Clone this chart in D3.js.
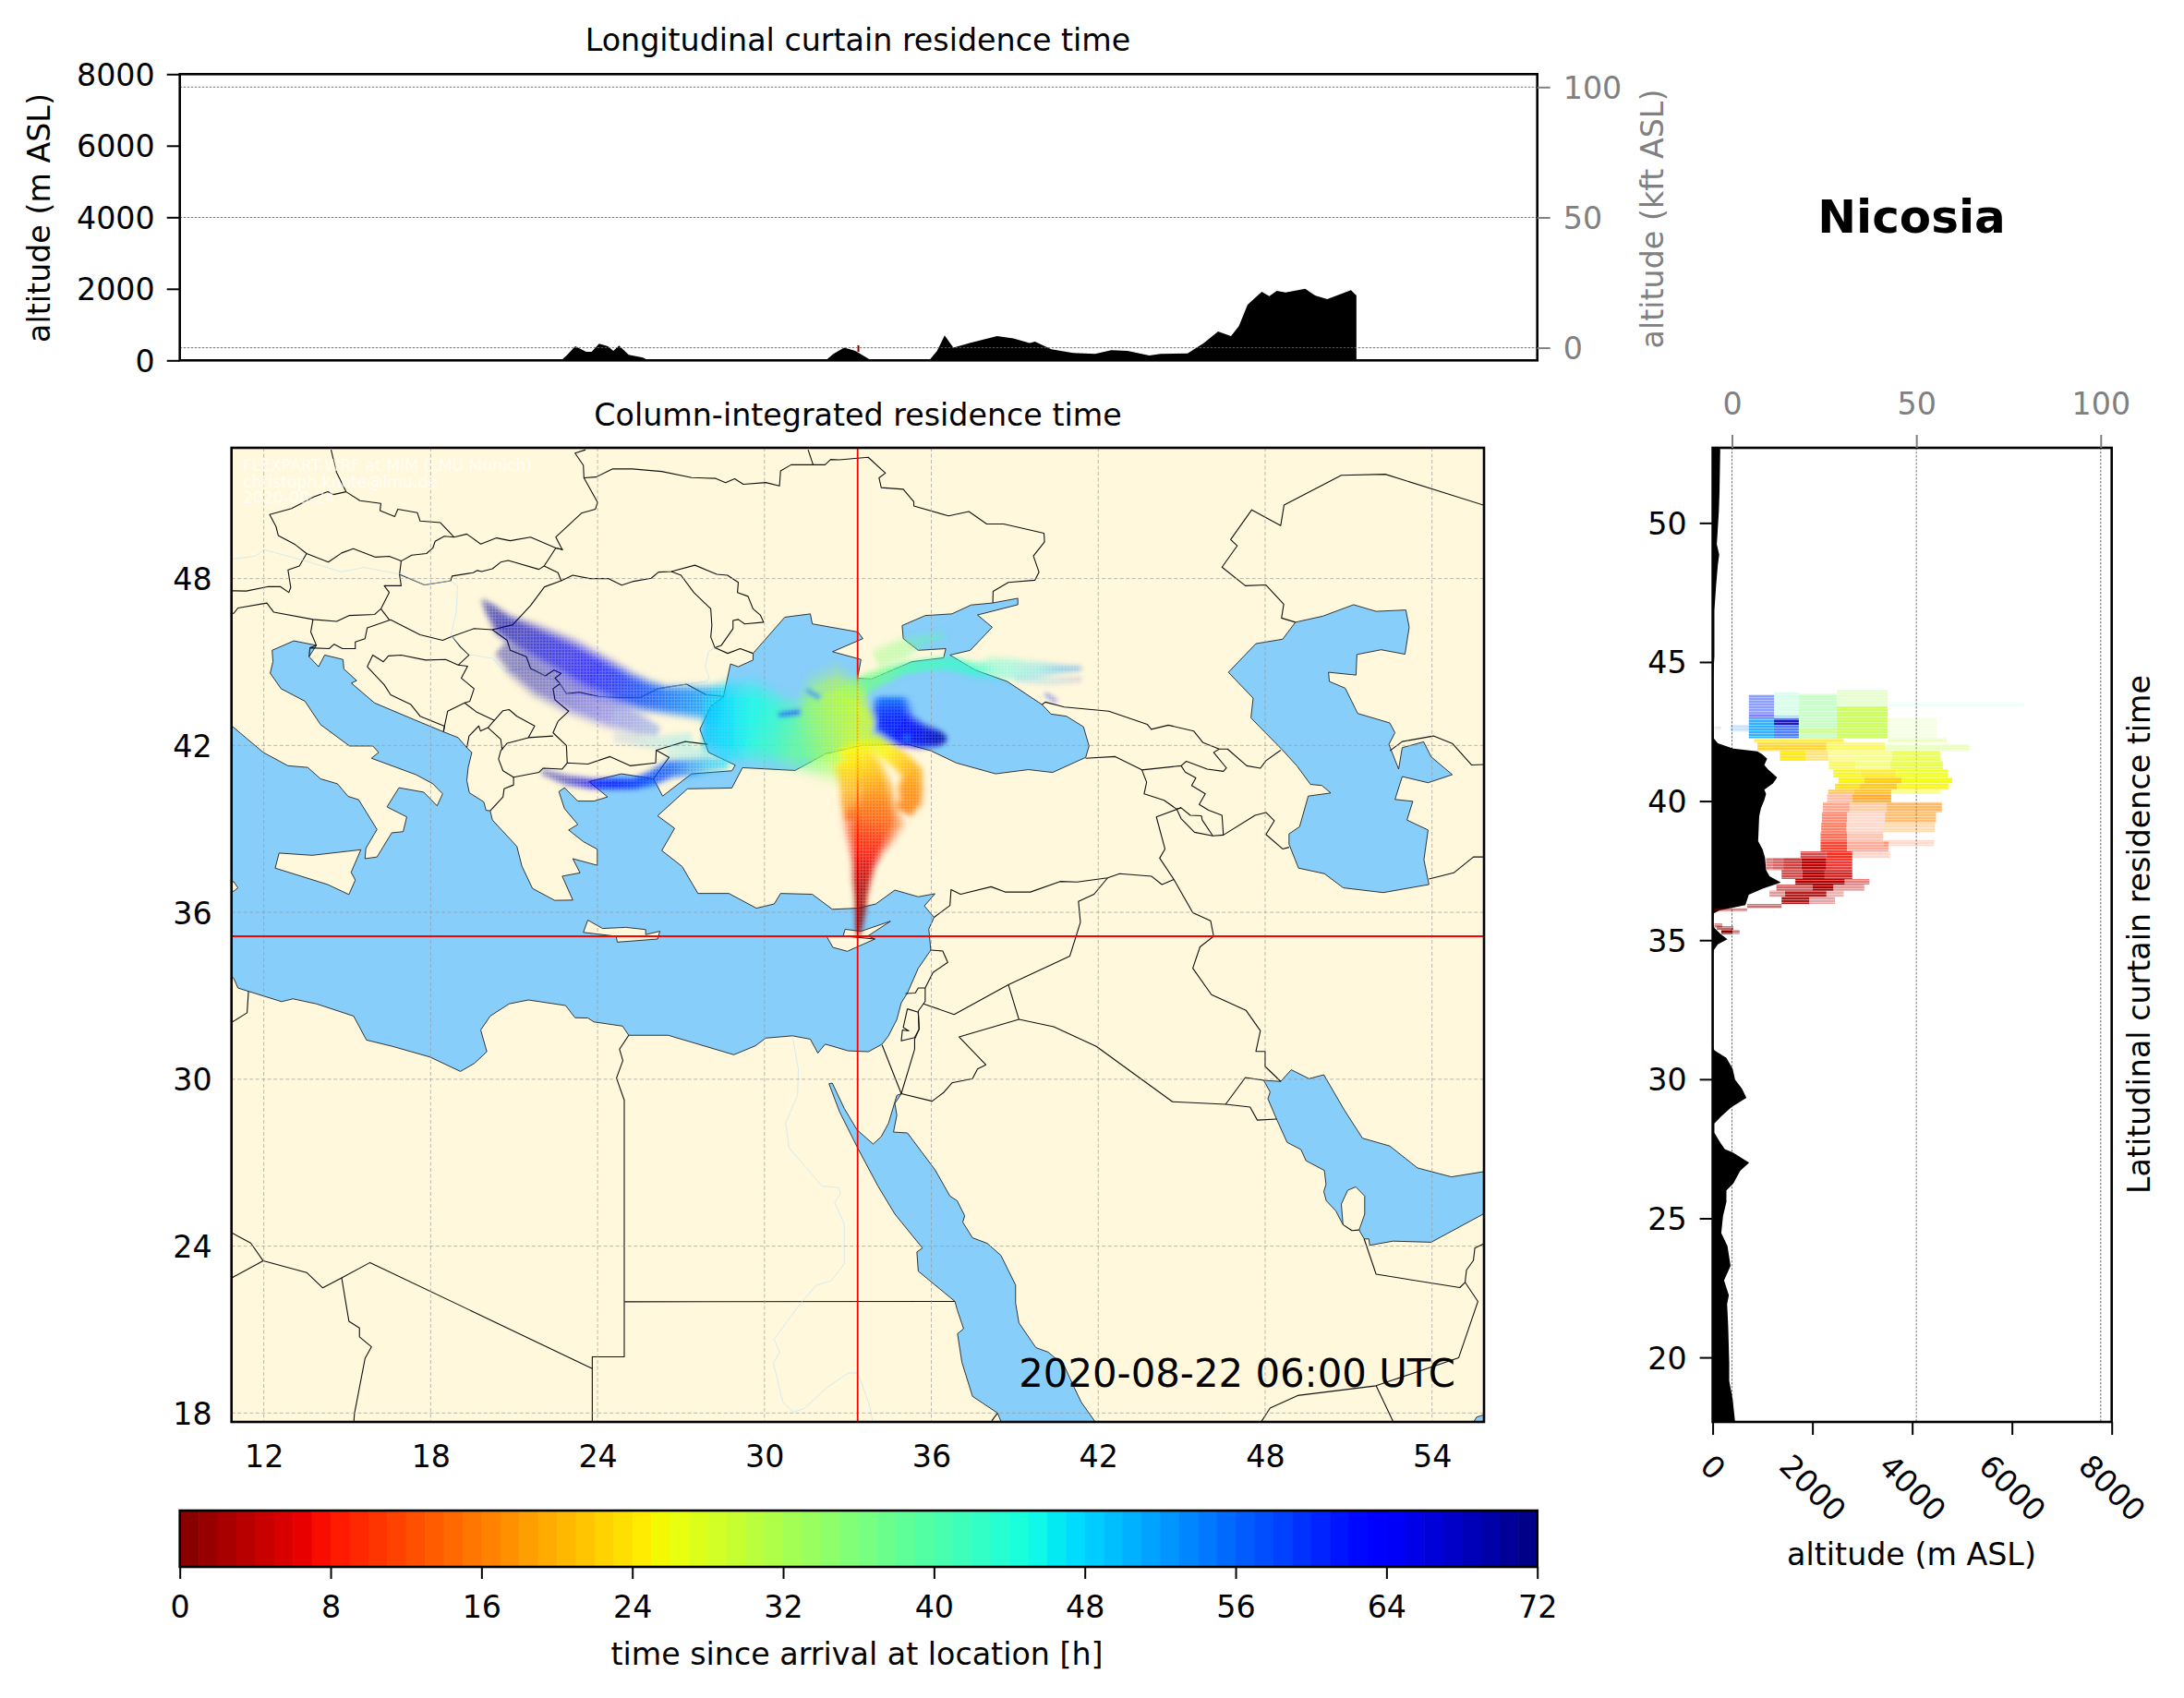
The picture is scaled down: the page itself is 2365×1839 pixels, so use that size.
<!DOCTYPE html>
<html>
<head>
<meta charset="utf-8">
<script src="https://cdn.jsdelivr.net/npm/d3@7"></script>
<style>
  body { margin: 0; background: #fff; }
  text { font-family: "DejaVu Sans", sans-serif; }
</style>
</head>
<body>
<script>
/*
 * Data: everything in degrees, metres, kft or hours
 */
const altTicks = [0, 2000, 4000, 6000, 8000];
const kftTicks = [0, 50, 100];
const lonTicks = [12, 18, 24, 30, 36, 42, 48, 54];
const latTicks = [18, 24, 30, 36, 42, 48];
const sideLatTicks = [20, 25, 30, 35, 40, 45, 50];
const hourTicks = [0, 8, 16, 24, 32, 40, 48, 56, 64, 72];
const nicosia = [33.35, 35.14];

// terrain under the longitudinal curtain [lon, m]
const lonTerrain = [[23.49,0],[23.67,138],[23.96,396],[24.32,241],[24.5,241],[24.75,464],[25.04,396],[25.22,267],[25.41,413],[25.73,155],[26.2,77],[26.38,0],
  [32.27,0],[32.52,181],[32.88,353],[33.25,267],[33.72,26],[33.79,0],
  [35.7,0],[35.96,267],[36.21,697],[36.5,353],[37.04,482],[37.95,680],[38.49,611],[39.03,482],[39.21,525],[39.75,310],[40.47,206],[41.2,181],[41.74,284],[42.28,267],[43.0,138],[43.37,181],[44.27,198],[44.81,482],[45.28,809],[45.71,680],[45.97,955],[46.26,1557],[46.73,1918],[46.98,1798],[47.23,1944],[47.52,1901],[48.17,2004],[48.5,1815],[48.9,1712],[49.69,1961],[49.87,1815],[49.87,0]];
// residence time cell in the longitudinal curtain [lon, m low, m high]
const lonCurtain = [[33.35, 240, 420]];

// terrain under the latitudinal curtain [lat, m]
const latTerrain = [[17.69,449],[18.5,401],[19.16,332],[19.82,332],[21.13,311],[21.92,290],[22.24,325],[22.77,228],[23.29,359],[24.0,297],[24.47,173],[25.07,207],[25.59,276],[26.0,276],[26.25,415],[26.71,553],[27.0,732],[27.36,415],[27.49,242],[27.76,138],[28.08,35],[28.41,35],[28.67,173],[29.0,380],[29.33,677],[29.66,587],[29.99,449],[30.38,401],[30.77,276],[31.04,35],[31.2,0],
  [34.4,0],[34.63,20],[34.85,104],[35.03,297],[35.2,173],[35.44,35],[35.6,0],[35.96,20],[36.07,138],[36.26,656],[36.63,725],[36.85,1002],[37.07,1368],[37.3,1140],[37.52,1071],[37.96,1050],[38.26,1002],[38.56,912],[38.85,919],[39.45,933],[39.74,967],[40.04,1036],[40.26,1071],[40.41,1036],[40.63,1209],[40.85,1292],[41.15,1105],[41.3,1036],[41.52,1092],[41.67,1002],[41.79,898],[41.89,415],[42.08,104],[42.26,20],[44.2,0],[45.2,35],[45.67,35],[46.86,35],[47.75,69],[48.49,104],[48.86,131],[49.23,83],[50.41,124],[51.15,138],[52.7,152]];

// latitudinal curtain cells [lat south, lat north, m low, m high, hours, density]
const latCurtain = [
  [43.4,44.0,2488,3510,32,.28],[42.26,43.4,2488,3510,30,.8],[42.26,43.85,1727,2488,36,.42],[42.41,42.63,1727,2488,28,.3],
  [43.08,43.9,1230,1727,40,.22],[42.96,43.08,1230,1727,50,.4],[42.74,42.96,1230,1727,68,.9],[42.26,42.74,1230,1727,58,.7],
  [43.15,43.82,725,1230,60,.45],[42.96,43.15,725,1230,64,.5],[42.26,42.96,725,1230,52,.8],
  [43.4,43.5,3510,6240,44,.1],[42.26,42.98,3510,4492,30,.14],[42.5,42.74,359,725,54,.22],[42.58,42.68,35,170,54,.15],
  [42.1,42.26,829,2626,24,.7],[42.1,42.26,3510,4699,30,.3],
  [41.8,42.1,898,2280,22,.8],[41.8,42.1,2280,3455,25,.6],[41.8,42.05,3455,5148,30,.3],
  [41.45,41.8,1347,1866,24,.9],[41.45,41.8,1866,2315,22,.5],[41.45,41.8,2315,2833,25,.4],[41.45,41.8,2833,3593,26,.45],[41.45,41.8,3593,4561,27,.7],
  [41.15,41.45,2329,2868,25,.6],[41.15,41.45,2868,3559,26,.5],[41.15,41.45,3559,4616,27,.75],
  [40.85,41.15,2419,2957,25,.8],[40.85,41.15,2957,3676,24,.8],[40.85,41.15,3676,4713,26,.85],
  [40.63,40.85,2522,3040,25,.95],[40.63,40.85,3040,3787,22,.95],[40.63,40.85,3787,4802,26,.95],
  [40.41,40.63,2453,2937,23,.85],[40.41,40.63,2937,3697,21,.85],[40.41,40.63,3697,4733,25,.85],
  [40.26,40.41,2315,2833,19,.6],[40.26,40.41,2833,3579,20,.8],[40.26,40.41,3579,4561,26,.45],
  [39.96,40.26,2294,2799,12,.35],[39.96,40.26,2799,3579,18,.8],
  [39.6,39.96,2211,2743,11,.45],[39.6,39.96,2743,3490,15,.35],[39.6,39.96,3490,4595,17,.6],
  [39.22,39.6,2190,2695,10,.55],[39.22,39.6,2695,3455,12,.2],[39.22,39.6,3455,4478,17,.55],
  [38.88,39.22,2177,2681,10,.6],[38.88,39.22,2681,3420,12,.2],[38.88,39.22,3420,4457,17,.3],
  [38.56,38.88,2163,2695,9,.65],[38.56,38.88,2695,3420,11,.3],[38.38,38.6,3434,4436,12,.2],
  [38.19,38.56,2163,2695,8,.8],[38.19,38.56,2695,3524,10,.4],
  [37.96,38.19,1762,2280,4,.7],[37.96,38.19,2280,2799,8,.9],[37.96,38.19,2799,3559,10,.2],
  [37.52,37.96,1071,1209,4,.5],[37.52,37.96,1209,1417,4,.6],[37.52,37.96,1417,1776,4,.75],[37.52,37.96,1776,2280,4,1],[37.52,37.96,2280,2799,7,.8],
  [37.2,37.52,1382,1797,4,.7],[37.2,37.52,1797,2246,3,1],[37.2,37.52,2246,2799,5,.85],
  [37.0,37.2,1658,2647,3,1],[37.0,37.2,2647,3144,5,.5],
  [36.78,37.0,1278,2004,3,.6],[36.78,37.0,2004,2419,2.5,1],[36.78,37.0,2419,3040,4,.4],
  [36.56,36.78,1140,1451,3,.4],[36.56,36.78,1451,2280,3,.9],[36.56,36.78,2280,2626,4,.3],
  [36.3,36.56,1382,1935,2,.9],[36.3,36.56,1935,2453,3,.35],
  [36.15,36.3,691,1382,2,.55],[36.03,36.15,35,691,2,.45],
  [35.44,35.6,35,193,2,.5],[35.37,35.5,83,415,1,.6],[35.22,35.37,173,401,.5,1],[35.22,35.37,401,539,1,.5]];

// plume ribbons, rows of [lon, lat, half width in degrees, hours, density]
const westStream = [[28.5,43.4,.75,50,.85],[27.8,43.55,.6,52,.85],[27.1,43.6,.55,54,.85],[26.4,43.65,.5,56,.85],[25.7,43.8,.55,58,.85],[25.0,44.05,.6,60,.8],[24.3,44.4,.65,62,.75],[23.6,44.75,.68,63,.7],[22.9,45.15,.68,65,.65],[22.1,45.55,.62,66,.65],[21.3,45.95,.55,68,.6],[20.6,46.35,.42,69,.6],[20.1,46.95,.22,70,.45],[19.85,47.25,.08,70,.2]];
const lowerStream = [[20.5,45.5,.3,70,.3],[21.1,44.95,.5,70,.35],[22.0,44.3,.6,69,.35],[23.2,43.7,.6,66,.32],[24.5,43.15,.55,62,.25],[25.5,42.75,.4,60,.22],[26.2,42.5,.2,58,.2]];
const thraceStream = [[22.0,41.05,.12,70,.3],[22.9,40.75,.2,68,.45],[23.8,40.62,.2,64,.7],[24.5,40.62,.2,62,.95],[25.3,40.62,.2,60,.95],[25.9,40.8,.28,58,.85],[26.6,41.15,.33,57,.85],[27.3,41.2,.33,54,.6],[28.0,41.3,.28,50,.55],[28.7,41.35,.22,48,.45]];
const thracePale = [[26.5,41.7,.2,48,.12],[28.0,41.75,.3,48,.15]];
const bulgariaPale = [[24.6,42.3,.2,60,.07],[26.0,42.1,.25,50,.12],[27.4,42.2,.3,48,.15]];
const blackSeaPool = [[34.55,43.75,.55,56,.75],[34.55,43.3,.68,60,.95],[34.6,42.85,.72,62,1],[35.05,42.5,.6,63,1],[35.7,42.32,.42,66,1],[36.3,42.25,.28,69,1],[36.55,42.22,.12,70,.7]];
const poolSpot = [[35.05,42.27,.05,54,1],[35.18,42.27,.05,54,1]];
const crimeaLobe = [[34.0,45.1,.35,35,.3],[34.9,45.45,.4,36,.3],[35.6,45.75,.25,38,.3],[36.5,46.0,.15,40,.2]];
const centralStream = [[27.8,42.9,1.0,49,.7],[28.6,42.85,1.35,47,.9],[29.5,42.85,1.35,45,.95],[30.4,42.55,1.15,42,.95],[31.2,42.35,1.15,38,.95],[32.0,42.55,1.7,33,.95],[32.7,42.7,1.9,30,.95],[33.3,42.6,1.4,28,.95],[33.9,42.5,.5,27,.7]];
const blueStreakWest = [[30.5,43.1,.08,62,.8],[31.3,43.2,.1,60,.9]];
const blueStreakNorth = [[31.5,44.0,.08,56,.6],[32.0,43.7,.1,54,.7]];
const eastArc = [[33.0,43.2,.5,33,.8],[33.0,43.8,.5,36,.8],[33.7,44.25,.35,37,.85],[34.4,44.55,.28,38,.85],[35.0,44.77,.22,40,.85],[35.8,44.9,.22,41,.85],[36.67,44.95,.25,42,.8],[37.58,44.72,.28,43,.65],[38.3,44.72,.38,44,.3],[39.0,44.72,.38,46,.22],[39.8,44.72,.32,48,.22],[40.6,44.75,.17,52,.3],[41.4,44.77,.08,55,.35]];
const eastPale = [[38.0,45.15,.12,42,.1],[39.2,45.05,.1,42,.08]];
const eastPaleLow = [[39.0,44.4,.15,50,.12],[40.3,44.3,.15,52,.12],[41.4,44.38,.1,68,.1]];
const rioniStreak = [[40.1,43.85,.06,58,.6],[40.5,43.58,.06,64,.4]];
const trunkWest = [[33.2,39.36,.32,13,.65],[33.05,39.91,.33,17,.65],[33.05,40.46,.35,20,.7],[33.05,41.02,.45,22,.8],[33.0,41.4,.5,24,.9]];
const trunkEast = [[35.0,39.6,.32,15,.8],[35.25,40.0,.42,16,.95],[35.25,40.46,.45,17,1],[35.3,41.02,.4,19,.95],[34.9,41.45,.36,22,.95],[34.4,41.8,.33,25,.95],[33.8,42.2,.33,27,.95]];
const trunkMain = [[33.2,42.1,.6,26,1],[33.4,41.57,.56,24,1],[33.75,41.02,.56,21,1],[33.94,40.46,.62,18,1],[33.97,39.91,.72,15,1],[33.94,39.36,1.0,13,.95],[33.76,38.8,.83,10,1],[33.66,38.25,.58,8,1],[33.57,37.7,.41,6,1],[33.5,37.14,.33,3.5,1],[33.47,36.59,.24,2,1],[33.45,36.04,.19,1.5,1],[33.4,35.48,.13,1,1],[33.38,35.15,.06,.5,1]];

// sea outlines [lon, lat]
const medSea = [[10.5,43.0],[11.98,41.75],[12.87,41.27],[13.58,41.21],[14.04,40.8],[14.65,40.62],[15.03,40.17],[15.41,40.05],[16.07,38.98],[15.67,38.3],[15.64,37.93],[16.07,37.99],[16.6,38.86],[17.01,38.9],[17.14,39.43],[16.43,39.79],[16.86,40.48],[17.75,40.32],[18.23,39.83],[18.43,40.26],[18.08,40.62],[17.47,40.95],[15.87,41.54],[16.13,41.75],[15.92,41.98],[15.08,41.98],[14.04,42.75],[13.48,43.59],[12.62,44.04],[12.23,44.6],[12.33,45.01],[12.3,45.42],[13.08,45.76],[13.89,45.6],[13.63,45.19],[13.97,44.83],[14.19,45.25],[14.85,45.09],[14.88,44.75],[15.34,44.33],[15.15,44.24],[15.98,43.53],[17.4,42.93],[18.46,42.49],[18.99,42.28],[19.3,41.92],[19.48,41.75],[19.35,41.21],[19.3,40.74],[19.39,40.3],[19.91,39.97],[19.99,39.67],[20.14,39.65],[20.22,39.32],[21.1,38.37],[21.28,37.66],[21.66,36.86],[22.46,36.43],[23.11,36.44],[22.73,37.3],[23.37,37.42],[23.11,37.93],[23.99,37.69],[23.99,38.27],[23.49,38.54],[22.96,38.96],[23.29,39.16],[22.81,39.73],[22.61,40.34],[22.81,40.48],[23.29,40.0],[23.87,40.0],[24.36,40.15],[23.69,40.7],[24.86,40.98],[26.01,40.8],[26.34,40.18],[27.38,40.98],[28.83,41.09],[28.95,41.29],[27.99,41.75],[27.68,42.58],[28.07,43.41],[28.52,43.74],[28.78,44.93],[29.06,44.83],[29.59,45.07],[29.59,45.31],[30.73,46.61],[31.65,46.73],[31.72,46.37],[33.36,46.08],[33.54,45.84],[32.45,45.37],[33.47,45.09],[33.35,44.42],[33.85,44.39],[35.3,45.01],[36.44,45.15],[36.52,45.48],[35.53,45.42],[34.99,45.84],[34.95,46.31],[35.78,46.67],[36.74,46.73],[37.43,47.05],[38.19,47.12],[39.11,47.29],[39.11,47.06],[37.66,46.69],[38.19,46.25],[37.4,45.42],[36.67,45.25],[37.58,44.71],[38.73,44.3],[39.98,43.47],[40.3,43.13],[40.86,43.05],[41.47,42.67],[41.67,41.98],[41.55,41.57],[40.36,41.03],[39.49,41.13],[38.31,40.98],[36.9,41.37],[35.98,41.81],[35.14,42.04],[33.5,42.0],[32.2,41.7],[31.1,41.1],[29.21,41.2],[28.83,40.47],[27.23,40.44],[26.16,39.47],[26.77,39.02],[26.31,38.22],[27.04,37.65],[27.61,36.68],[28.72,36.68],[29.71,36.15],[30.35,36.3],[30.58,36.68],[31.72,36.65],[32.44,36.11],[33.35,36.15],[34.0,36.3],[34.69,36.8],[35.53,36.56],[36.13,36.67],[35.75,36.23],[36.1,35.82],[35.91,35.4],[35.98,34.64],[35.53,33.99],[35.14,33.1],[34.92,32.75],[34.76,32.15],[34.46,31.56],[34.23,31.26],[33.74,30.99],[33.01,31.02],[32.4,31.2],[32.18,31.26],[31.92,30.94],[31.65,31.44],[31.01,31.56],[30.05,31.48],[29.67,31.2],[28.9,30.88],[26.54,31.58],[25.12,31.58],[24.9,31.91],[23.87,32.06],[23.65,32.2],[23.19,32.21],[22.85,32.65],[21.51,32.85],[20.82,32.71],[20.14,32.27],[19.8,31.77],[20.02,30.99],[19.57,30.57],[19.07,30.28],[17.97,30.8],[16.63,31.18],[15.69,31.41],[15.23,32.27],[13.89,32.71],[13.05,32.89],[12.64,32.79],[11.45,33.16],[11.07,33.28],[10.92,33.63],[10.5,34.0]];
const caspianSea = [[49.09,46.43],[50.08,46.65],[51.18,47.06],[51.99,46.82],[53.06,46.87],[53.18,46.25],[53.03,45.28],[52.17,45.44],[51.3,45.27],[51.27,44.53],[50.28,44.63],[50.31,44.3],[50.88,44.06],[51.33,43.15],[52.48,42.81],[52.67,42.46],[52.45,42.04],[52.8,41.15],[52.93,41.92],[53.7,42.13],[53.97,41.59],[54.73,40.95],[53.86,40.66],[52.93,40.88],[52.67,40.06],[53.31,39.99],[53.1,39.32],[53.86,38.96],[53.71,37.89],[53.89,37.0],[52.25,36.71],[50.81,36.88],[50.13,37.39],[49.2,37.59],[48.86,38.45],[48.86,38.82],[49.24,39.08],[49.55,40.18],[50.36,40.29],[50.04,40.56],[49.63,40.6],[49.14,41.27],[48.59,41.87],[47.49,42.99],[47.57,43.7],[46.68,44.63],[47.67,45.66],[48.63,45.82]];
const redSea = [[32.32,29.84],[32.44,29.86],[32.87,28.95],[33.33,28.18],[33.91,27.67],[34.2,27.94],[34.46,28.42],[34.76,29.42],[34.92,29.48],[34.69,29.13],[34.76,28.71],[34.64,28.1],[35.14,28.07],[36.13,26.75],[36.67,25.8],[36.93,25.63],[37.2,25.09],[37.13,24.86],[37.48,24.3],[38.01,24.1],[38.5,23.67],[39.03,22.6],[39.03,21.95],[39.15,21.24],[39.76,20.35],[40.2,20.19],[40.78,19.7],[41.13,18.93],[41.39,18.39],[41.88,17.7],[42.2,17.2],[38.2,17.2],[38.5,17.7],[38.38,18.0],[37.48,18.6],[37.1,19.82],[36.94,20.85],[37.16,21.03],[36.93,21.71],[36.85,22.01],[35.53,23.1],[35.48,23.79],[35.68,23.93],[34.69,25.15],[34.08,26.16],[33.35,27.53],[32.7,28.83]];
const persianGulf = [[47.95,29.96],[48.56,29.92],[48.94,30.34],[49.58,30.02],[50.11,30.16],[50.85,28.89],[51.5,27.88],[52.48,27.6],[53.48,26.81],[54.7,26.49],[56.3,26.75],[56.3,25.4],[53.97,24.14],[52.6,24.18],[51.76,24.03],[51.73,24.26],[51.56,24.26],[51.38,24.58],[51.58,25.15],[51.58,25.8],[51.26,26.13],[50.97,26.01],[50.74,25.51],[50.8,24.77],[50.54,25.27],[50.2,25.63],[50.11,25.96],[50.19,26.22],[50.13,26.72],[49.47,27.07],[49.29,27.47],[48.79,27.73],[48.41,28.57],[48.1,29.3],[48.18,29.54]];
const arabianSea = [[55.45,17.6],[55.6,17.85],[55.9,17.95],[56.2,17.6]];

// islands on top of the sea
const sicily = [[12.55,38.13],[13.74,38.05],[15.49,38.25],[15.14,37.44],[15.29,37.16],[15.06,36.64],[14.3,37.0],[12.41,37.59]];
const crete = [[23.65,35.72],[24.18,35.42],[25.02,35.46],[25.73,35.38],[25.73,35.2],[26.24,35.32],[26.16,35.04],[24.71,34.93],[24.67,35.14],[23.49,35.28]];
const cyprus = [[32.24,35.13],[32.83,35.15],[32.9,35.39],[33.47,35.32],[34.53,35.68],[33.72,35.15],[33.97,35.04],[32.98,34.6],[32.46,34.74]];
const tunisTip = [[10.5,37.1],[10.92,37.1],[11.07,36.88],[10.92,36.76],[10.5,36.76]];

const borders = [
  [[14.42,52.63],[14.61,51.83],[14.96,51.12],[15.46,50.8],[16.21,50.7],[16.18,50.44],[16.71,50.23],[16.82,50.49],[17.52,50.37],[17.62,50.07],[18.35,50.01],[18.84,49.49]],
  [[14.96,51.12],[14.5,51.02],[14.3,51.12],[13.81,50.94],[13.0,50.52],[12.21,50.3],[12.44,49.87],[12.52,49.55],[13.13,49.22],[13.54,48.9],[14.32,48.59],[14.8,48.92],[15.22,49.07],[16.02,48.77],[16.51,48.8],[16.94,48.63],[17.32,48.84],[17.85,48.9],[18.08,49.1],[18.16,49.34],[18.49,49.52],[18.84,49.49],[19.3,49.6],[19.8,49.24],[20.37,49.46],[20.86,49.36],[21.59,49.49],[22.5,49.1],[22.76,49.04]],
  [[23.57,52.63],[23.19,52.51],[23.49,52.07],[23.51,51.62],[24.0,50.74],[23.92,50.49],[23.42,50.35],[22.5,49.49],[22.73,49.04],[22.5,49.1],[22.08,48.45]],
  [[23.51,51.62],[23.95,51.65],[24.53,51.94],[25.25,51.94],[26.31,51.85],[27.38,51.63],[28.25,51.6],[28.6,51.45],[28.93,51.59],[29.24,51.39],[30.05,51.45],[30.54,51.33],[30.58,51.87],[30.96,52.09],[31.75,52.09],[32.18,52.09],[32.38,52.28],[32.69,52.27],[33.73,52.36],[34.35,51.79],[34.12,51.62],[34.2,51.27],[34.99,51.21],[35.37,50.76],[35.37,50.61],[36.62,50.25],[37.35,50.41],[37.99,49.96],[38.6,49.96],[40.05,49.63],[40.07,49.32],[39.67,48.81],[39.87,48.23],[39.72,47.94],[38.77,47.86],[38.22,47.54],[38.21,47.12]],
  [[31.57,52.63],[31.75,52.09]],
  [[16.94,48.63],[16.88,48.15],[16.94,47.74],[16.33,47.74],[16.51,47.5],[16.21,46.91],[15.99,46.71],[15.06,46.67],[14.62,46.46],[13.77,46.53],[12.36,46.79],[12.11,47.12],[11.07,46.94],[10.92,46.75],[10.5,46.75]],
  [[10.5,47.56],[10.92,47.56],[11.37,47.55],[12.17,47.71],[12.59,47.71],[12.9,47.5],[12.97,47.68],[12.87,48.31],[13.28,48.45],[13.54,48.9]],
  [[16.88,48.15],[17.78,47.77],[18.72,47.92],[18.77,48.09],[19.53,48.21],[19.68,48.29],[19.83,48.25],[20.22,48.35],[20.52,48.59],[20.79,48.65],[21.89,48.33],[22.08,48.45],[22.58,48.21],[22.69,47.92],[22.09,47.7],[21.59,47.03],[20.95,46.34],[20.22,46.16],[19.56,46.2],[18.77,45.92],[18.43,45.78],[17.62,45.98],[16.56,46.52],[15.72,46.23],[15.64,45.84],[15.29,45.72],[15.29,45.48],[14.83,45.48],[14.53,45.64],[14.35,45.48],[13.66,45.51],[13.63,45.19]],
  [[13.77,46.53],[13.69,46.08],[13.89,45.6],[13.66,45.51]],
  [[16.21,46.91],[16.51,46.52]],
  [[22.69,47.92],[23.11,48.12],[23.72,48.0],[24.38,48.0],[24.87,47.76],[25.25,47.89],[25.93,48.01],[26.19,48.23],[26.65,48.25],[27.5,48.48],[28.29,48.15],[28.67,48.12],[29.06,47.86],[29.03,47.5],[29.41,47.36],[29.59,46.91],[29.85,46.69],[29.97,46.43],[29.29,46.37],[29.06,46.53],[28.87,46.49],[28.87,46.2],[28.45,45.6],[28.22,45.51]],
  [[26.65,48.25],[27.0,48.12],[27.46,47.5],[28.07,46.91],[28.11,46.31],[28.07,45.9],[28.22,45.51],[28.68,45.31],[29.13,45.48],[29.59,45.31]],
  [[20.22,46.16],[20.75,45.78],[20.86,45.42],[21.44,45.19],[21.59,44.77],[22.12,44.5],[22.43,44.71],[22.69,44.59],[22.47,44.42],[22.65,44.22],[22.88,43.86],[23.34,43.91],[24.03,43.76],[24.79,43.73],[25.55,43.73],[26.16,44.04],[27.2,44.2],[27.91,43.82],[28.52,43.76]],
  [[22.65,44.22],[22.4,44.04],[22.47,43.64],[22.96,43.23],[22.58,42.87],[22.4,42.46],[22.5,42.36],[22.88,42.0],[22.91,41.37]],
  [[22.4,42.34],[21.51,42.28],[20.75,42.08],[20.52,41.81],[20.44,41.51],[20.6,41.09],[20.98,40.86],[21.89,41.03],[22.04,41.18],[22.73,41.15],[22.91,41.37],[23.65,41.33],[24.45,41.6],[25.17,41.27],[26.09,41.37],[26.11,41.83],[26.57,41.57],[26.01,40.8]],
  [[26.11,41.83],[27.15,42.14],[27.96,42.04]],
  [[20.98,40.86],[20.98,40.58],[20.64,40.44],[20.6,40.15],[20.14,39.65]],
  [[19.3,41.92],[19.38,42.34],[19.73,42.7],[19.79,42.52],[20.06,42.64],[20.52,42.22],[20.57,41.84]],
  [[20.06,42.64],[20.29,42.9],[20.6,43.25],[20.82,43.29],[21.1,43.05],[21.74,42.7],[21.51,42.28]],
  [[18.46,42.52],[18.61,43.23],[19.22,43.53],[19.64,43.21],[20.29,42.9]],
  [[15.72,44.83],[15.92,45.25],[16.3,45.01],[16.48,45.22],[16.94,45.25],[17.82,45.07],[18.54,45.09],[18.99,44.89],[19.33,44.85],[19.1,44.42],[19.56,44.04],[19.41,43.59],[19.22,43.53]],
  [[15.72,44.83],[16.33,44.18],[16.56,43.82],[17.29,43.47],[17.62,43.05],[18.5,42.69],[18.46,42.49]],
  [[18.77,45.92],[19.07,45.54],[19.38,45.25],[18.99,44.89]],
  [[39.98,43.47],[40.1,43.56],[40.78,43.38],[42.38,43.23],[43.76,42.76],[43.91,42.58],[44.52,42.73],[45.43,42.52],[45.77,42.1],[46.35,41.87],[46.65,41.87],[47.34,41.27],[47.83,41.18],[48.03,41.45],[48.56,41.83]],
  [[46.35,41.87],[46.15,41.75],[46.61,41.19],[46.5,41.07],[45.92,41.15],[45.17,41.43],[44.98,41.27],[43.57,41.12],[42.61,41.6],[41.55,41.54]],
  [[44.98,41.27],[45.13,41.04],[45.51,40.83],[45.36,40.56],[45.85,40.26],[45.63,39.88],[45.97,39.67],[46.45,39.49],[46.5,38.78]],
  [[43.57,41.12],[43.74,40.68],[43.65,40.26],[44.37,40.03],[44.82,39.71],[44.98,39.37],[45.46,38.88],[46.12,38.75],[46.5,38.78],[47.64,39.49],[48.03,39.59],[48.33,39.29],[48.03,38.8],[48.63,38.28],[48.86,38.34]],
  [[44.82,39.71],[44.98,39.76],[45.31,39.49],[45.71,39.47],[45.74,39.32],[46.12,38.75]],
  [[44.98,39.76],[44.09,39.43],[44.4,38.28],[44.21,37.95],[44.72,37.18],[45.4,35.99],[46.04,35.7],[46.15,35.14],[45.66,34.76],[45.4,33.99],[46.07,33.04],[47.31,32.48],[47.83,31.74],[47.67,31.0],[48.0,31.0],[48.0,30.46],[48.56,29.92]],
  [[44.72,37.18],[44.29,37.0],[43.91,37.3],[42.77,37.39],[42.34,37.24],[41.24,37.09],[40.63,37.11],[39.56,36.73],[38.65,36.73],[38.15,36.92],[37.05,36.65],[36.71,36.82],[36.67,36.25],[36.1,35.82]],
  [[42.34,37.24],[41.85,36.65],[41.29,36.39],[41.36,35.64],[40.98,34.43],[38.77,33.4],[36.82,32.33],[35.72,32.71]],
  [[35.98,34.64],[36.41,34.61],[36.59,34.2],[36.06,33.84],[35.78,33.28],[35.78,32.8],[35.53,32.45],[35.56,31.8],[35.4,31.44],[35.4,31.08],[34.92,29.48],[36.03,29.21],[36.44,29.52],[36.74,29.87],[37.48,30.02],[37.66,30.37],[37.96,30.52],[37.0,31.52],[39.15,32.15],[38.77,33.4]],
  [[35.78,33.28],[35.53,33.28],[35.42,33.1],[35.07,33.08]],
  [[35.14,32.53],[35.53,32.41],[35.56,31.8],[35.4,31.5],[34.92,31.38],[34.96,31.77],[35.19,31.74],[34.99,31.86],[35.14,32.53]],
  [[34.23,31.23],[34.92,29.48]],
  [[39.15,32.15],[40.4,31.89],[41.93,31.18],[44.67,29.19],[46.58,29.1],[47.46,29.0],[47.72,28.53],[48.41,28.57]],
  [[46.58,29.1],[47.29,30.06],[47.95,29.96]],
  [[50.8,24.77],[51.12,24.56],[51.38,24.58]],
  [[51.56,24.26],[51.99,22.99],[55.0,22.51],[55.19,22.7],[55.24,23.14],[55.49,23.49],[55.54,23.93],[56.3,24.3]],
  [[55.19,22.7],[55.65,22.01],[54.96,19.99],[51.99,18.98],[49.17,18.63],[48.18,18.18],[47.87,17.7],[47.7,17.2]],
  [[51.99,18.98],[52.6,17.7],[52.8,17.2]],
  [[37.9,17.2],[38.19,17.74],[38.38,18.0]],
  [[52.49,41.81],[52.93,42.14],[54.05,42.34],[54.73,42.07],[55.42,41.3],[56.3,41.33]],
  [[53.89,37.2],[54.78,37.42],[55.49,37.99],[56.3,37.99]],
  [[56.3,50.5],[52.32,51.75],[50.74,51.71],[48.68,50.64],[48.56,49.9],[47.52,50.47],[46.76,49.4],[47.0,49.18],[46.45,48.41],[47.29,47.74],[48.03,47.77],[48.67,47.08],[48.59,46.58],[49.09,46.43]],
  [[25.12,31.58],[24.79,31.08],[24.91,30.67],[24.68,30.04],[24.96,29.25],[24.96,20.02],[23.81,20.02],[23.81,17.2]],
  [[24.97,22.0],[36.85,22.01]],
  [[23.81,19.6],[15.82,23.41],[14.8,22.86],[14.12,22.5],[13.54,23.05],[11.98,23.47],[11.53,24.11],[10.92,24.44],[10.5,24.7]],
  [[11.98,23.47],[10.92,22.9],[10.5,22.6]],
  [[14.8,22.86],[15.06,21.3],[15.44,21.06],[15.44,20.74],[15.87,20.38],[15.64,19.96],[15.26,17.98],[15.2,17.2]],
  [[11.45,33.16],[11.4,32.39],[10.92,32.09],[10.5,31.8]],
  [[32.83,35.15],[33.35,35.1],[33.97,35.04]]
];

const rivers = [
  [[10.5,48.71],[10.92,48.71],[11.68,48.8],[12.01,49.04],[13.51,48.63],[14.8,48.24],[15.61,48.4],[16.94,48.15],[17.78,47.77],[18.69,47.92],[18.97,47.74],[18.92,46.79],[18.72,45.96],[19.38,45.27],[20.22,45.13],[20.67,44.65],[21.44,44.8],[22.12,44.5],[22.65,44.22],[22.88,43.86],[24.03,43.76],[25.55,43.73],[26.16,44.04],[27.2,44.2],[27.91,44.3],[28.02,44.42],[27.87,44.83],[27.99,45.37],[28.22,45.51]],
  [[31.01,31.5],[31.22,30.37],[31.19,29.42],[30.76,28.42],[30.89,27.53],[32.07,26.16],[32.69,26.1],[32.72,25.86],[32.52,25.57],[32.87,24.8],[32.87,23.37],[32.41,22.76],[31.88,22.6],[31.34,22.0],[30.35,20.65],[30.55,20.17],[30.32,19.81],[30.66,18.39],[31.04,18.04],[31.42,18.15],[32.26,18.93],[33.02,19.44],[33.36,19.44],[33.78,18.27],[33.89,17.68]]
];

/*
 * Scales
 *
 */
const svgWidth = 2365,
  svgHeight = 1839,
  fontSize = 33.3,
  topPanel = { left: 194.7, right: 1664.7, top: 80.3, bottom: 390.3 },
  mapPanel = { left: 250.7, right: 1607, top: 485, bottom: 1540 },
  sidePanel = { left: 1854.6, right: 2286.7, top: 485, bottom: 1540 },
  colorPanel = { left: 194.7, right: 1664.7, top: 1636, bottom: 1697 };

const lonDomain = [10.84, 55.87],
  latDomain = [17.68, 52.7];

const xMap = d3.scaleLinear().domain(lonDomain).range([mapPanel.left, mapPanel.right]);
const yMap = d3.scaleLinear().domain(latDomain).range([mapPanel.bottom, mapPanel.top]);
const xTop = d3.scaleLinear().domain(lonDomain).range([topPanel.left, topPanel.right]);
const yTop = d3.scaleLinear().domain([0, 8000]).range([topPanel.bottom, topPanel.top]);
const yTopKft = d3.scaleLinear().domain([0, 100]).range([376.6, 94.3]);
const xSide = d3.scaleLinear().domain([0, 8000]).range([sidePanel.left, sidePanel.right]);
const xSideKft = d3.scaleLinear().domain([0, 100]).range([1875.5, 2274.8]);
const xHour = d3.scaleLinear().domain([0, 72]).range([colorPanel.left, colorPanel.right]);
const plainNumber = d3.format('d');

// matplotlib jet, reversed so that 0 h is dark red
const jetR = d3.scaleLinear().domain([0, .35, .66, .89, 1]).range([0, 0, 255, 255, 127.5]);
const jetG = d3.scaleLinear().domain([0, .125, .375, .64, .91, 1]).range([0, 0, 255, 255, 0, 0]);
const jetB = d3.scaleLinear().domain([0, .11, .34, .65, 1]).range([127.5, 255, 255, 0, 0]);
function hourColor(h) {
  const v = 1 - h / 72;
  return d3.rgb(jetR(v), jetG(v), jetB(v)).formatHex();
}

/*
 * Create the svg and the shared defs
 *
 */
const svg = d3.select('body').append('svg')
  .attr('width', svgWidth)
  .attr('height', svgHeight)
  .style('display', 'block');

const defs = svg.append('defs');

function addClip(id, p) {
  defs.append('clipPath').attr('id', id).append('rect')
    .attr('x', p.left).attr('y', p.top)
    .attr('width', p.right - p.left).attr('height', p.bottom - p.top);
}
addClip('clip-map', mapPanel);
addClip('clip-side', sidePanel);
addClip('clip-top', topPanel);

defs.append('filter').attr('id', 'plume-blur')
  .attr('filterUnits', 'userSpaceOnUse')
  .attr('x', 0).attr('y', 0).attr('width', svgWidth).attr('height', svgHeight)
  .append('feGaussianBlur').attr('stdDeviation', 2.6);

// the model grid shows through as a fine lattice
const cellPattern = defs.append('pattern').attr('id', 'plume-cells')
  .attr('patternUnits', 'userSpaceOnUse').attr('width', 3.4).attr('height', 3.4);
cellPattern.append('rect').attr('width', 3.4).attr('height', 3.4).attr('fill', '#fff').attr('fill-opacity', .72);
cellPattern.append('rect').attr('width', 2.3).attr('height', 2.3).attr('fill', '#fff');
defs.append('mask').attr('id', 'plume-mask').attr('maskUnits', 'userSpaceOnUse')
  .attr('x', 0).attr('y', 0).attr('width', svgWidth).attr('height', svgHeight)
  .append('rect').attr('width', svgWidth).attr('height', svgHeight).attr('fill', 'url(#plume-cells)');

const stripePattern = defs.append('pattern').attr('id', 'curtain-rows')
  .attr('patternUnits', 'userSpaceOnUse').attr('width', 4).attr('height', 3);
stripePattern.append('rect').attr('width', 4).attr('height', 3).attr('fill', '#fff').attr('fill-opacity', .6);
stripePattern.append('rect').attr('width', 4).attr('height', 2).attr('fill', '#fff');
defs.append('mask').attr('id', 'curtain-mask').attr('maskUnits', 'userSpaceOnUse')
  .attr('x', 0).attr('y', 0).attr('width', svgWidth).attr('height', svgHeight)
  .append('rect').attr('width', svgWidth).attr('height', svgHeight).attr('fill', 'url(#curtain-rows)');

/*
 * Small helpers
 *
 */
function styleAxis(g, color) {
  g.selectAll('text').attr('font-size', fontSize).attr('font-family', '"DejaVu Sans"').attr('fill', color);
  g.selectAll('text[dy="0.32em"]').attr('dy', '.36em');
  g.selectAll('line').attr('stroke', color).attr('stroke-width', 2);
  g.select('.domain').remove();
}

function frame(p) {
  svg.append('rect')
    .attr('x', p.left).attr('y', p.top)
    .attr('width', p.right - p.left).attr('height', p.bottom - p.top)
    .attr('fill', 'none').attr('stroke', '#000').attr('stroke-width', 2.6);
}

function label(text, x, y, opts) {
  const o = opts || {};
  return svg.append('text')
    .attr('transform', `translate(${x},${y})${o.rotate ? ` rotate(${o.rotate})` : ''}`)
    .attr('text-anchor', o.anchor || 'middle')
    .attr('font-size', o.size || fontSize)
    .attr('font-weight', o.weight || 'normal')
    .attr('fill', o.color || '#000')
    .attr('fill-opacity', o.opacity === undefined ? 1 : o.opacity)
    .text(text);
}

// one tapered quad between each pair of rows of a stream, in pixels
function ribbonQuads(rows, widen) {
  const pts = rows.map(d => ({ x: xMap(d[0]), y: yMap(d[1]), w: (xMap(d[0] + d[2]) - xMap(d[0])) * widen, h: d[3], a: d[4] }));
  pts.forEach((p, i) => {
    const a = pts[Math.max(i - 1, 0)], b = pts[Math.min(i + 1, pts.length - 1)];
    const len = Math.hypot(b.x - a.x, b.y - a.y) || 1;
    p.nx = -(b.y - a.y) / len;
    p.ny = (b.x - a.x) / len;
  });
  return d3.pairs(pts).map(([a, b]) => ({
    from: a,
    to: b,
    corners: [[a.x + a.nx * a.w, a.y + a.ny * a.w], [b.x + b.nx * b.w, b.y + b.ny * b.w],
      [b.x - b.nx * b.w, b.y - b.ny * b.w], [a.x - a.nx * a.w, a.y - a.ny * a.w]]
  }));
}

/*
 * Longitudinal curtain
 *
 */
const topG = svg.append('g').attr('clip-path', 'url(#clip-top)');

topG.append('path')
  .datum(lonTerrain)
  .attr('fill', '#000')
  .attr('d', d3.area().x(d => xTop(d[0])).y0(yTop(0)).y1(d => yTop(d[1])));

topG.selectAll('rect.cell').data(lonCurtain).enter().append('rect')
  .attr('class', 'cell')
  .attr('x', d => xTop(d[0]) - 1)
  .attr('width', 2)
  .attr('y', d => yTop(d[2]))
  .attr('height', d => yTop(d[1]) - yTop(d[2]))
  .attr('fill', hourColor(1));

topG.selectAll('line.grid').data(kftTicks).enter().append('line')
  .attr('class', 'grid')
  .attr('x1', topPanel.left).attr('x2', topPanel.right)
  .attr('y1', d => yTopKft(d)).attr('y2', d => yTopKft(d))
  .attr('stroke', '#666').attr('stroke-width', .9).attr('stroke-dasharray', '2.5,1.5');

frame(topPanel);

svg.append('g').attr('transform', `translate(${topPanel.left},0)`)
  .call(d3.axisLeft(yTop).tickValues(altTicks).tickFormat(plainNumber).tickSize(14).tickPadding(13))
  .call(styleAxis, '#000');
svg.append('g').attr('transform', `translate(${topPanel.right},0)`)
  .call(d3.axisRight(yTopKft).tickValues(kftTicks).tickFormat(plainNumber).tickSize(14).tickPadding(14))
  .call(styleAxis, '#808080');

label('Longitudinal curtain residence time', 929, 55);
label('altitude (m ASL)', 54, 236, { rotate: -90 });
label('altitude (kft ASL)', 1801, 237, { rotate: -90, color: '#808080' });

/*
 * Map
 *
 */
const geoLine = d3.line().x(d => xMap(d[0])).y(d => yMap(d[1]));
const ring = d => geoLine(d) + 'Z';

const mapG = svg.append('g').attr('clip-path', 'url(#clip-map)');

mapG.append('rect')
  .attr('x', mapPanel.left).attr('y', mapPanel.top)
  .attr('width', mapPanel.right - mapPanel.left).attr('height', mapPanel.bottom - mapPanel.top)
  .attr('fill', '#fff8dc');

mapG.selectAll('path.sea').data([medSea, caspianSea, redSea, persianGulf, arabianSea]).enter().append('path')
  .attr('class', 'sea')
  .attr('d', ring)
  .attr('fill', '#87cefa').attr('stroke', '#222').attr('stroke-width', .9).attr('stroke-linejoin', 'round');

mapG.selectAll('path.island').data([sicily, crete, cyprus, tunisTip]).enter().append('path')
  .attr('class', 'island')
  .attr('d', ring)
  .attr('fill', '#fff8dc').attr('stroke', '#222').attr('stroke-width', .9);

mapG.selectAll('path.border').data(borders).enter().append('path')
  .attr('class', 'border')
  .attr('d', geoLine)
  .attr('fill', 'none').attr('stroke', '#111').attr('stroke-width', 1.1).attr('stroke-linejoin', 'round');

mapG.selectAll('path.river').data(rivers).enter().append('path')
  .attr('class', 'river')
  .attr('d', geoLine)
  .attr('fill', 'none').attr('stroke', '#c0e4f6').attr('stroke-width', 1).attr('stroke-opacity', .65);

mapG.selectAll('line.gridx').data(lonTicks).enter().append('line')
  .attr('class', 'gridx')
  .attr('x1', d => xMap(d)).attr('x2', d => xMap(d))
  .attr('y1', mapPanel.top).attr('y2', mapPanel.bottom)
  .attr('stroke', '#999').attr('stroke-width', .9).attr('stroke-dasharray', '4,2.5').attr('stroke-opacity', .75);
mapG.selectAll('line.gridy').data(latTicks).enter().append('line')
  .attr('class', 'gridy')
  .attr('x1', mapPanel.left).attr('x2', mapPanel.right)
  .attr('y1', d => yMap(d)).attr('y2', d => yMap(d))
  .attr('stroke', '#999').attr('stroke-width', .9).attr('stroke-dasharray', '4,2.5').attr('stroke-opacity', .75);

mapG.append('line')
  .attr('x1', xMap(nicosia[0])).attr('x2', xMap(nicosia[0]))
  .attr('y1', mapPanel.top).attr('y2', mapPanel.bottom)
  .attr('stroke', 'red').attr('stroke-width', 1.8);
mapG.append('line')
  .attr('x1', mapPanel.left).attr('x2', mapPanel.right)
  .attr('y1', yMap(nicosia[1])).attr('y2', yMap(nicosia[1]))
  .attr('stroke', 'red').attr('stroke-width', 1.8);

// oldest air first, the youngest ends up on top
const plumeStreams = [lowerStream, westStream, bulgariaPale, thraceStream, thracePale, blackSeaPool, poolSpot, crimeaLobe, eastArc, eastPale, eastPaleLow, rioniStreak, centralStream, blueStreakWest, blueStreakNorth, trunkWest, trunkEast, trunkMain];

const plumeG = mapG.append('g').attr('mask', 'url(#plume-mask)')
  .append('g').attr('filter', 'url(#plume-blur)');

let quadId = 0;
plumeStreams.forEach(stream => {
  // nested skirts, so the density falls off towards the edge of a stream
  [[1.25, .12], [1.1, .25], [.95, .5], [.7, .8]].forEach(([widen, fade]) => {
    ribbonQuads(stream, widen).forEach(q => {
      const id = 'quad-' + (quadId++);
      const grad = defs.append('linearGradient').attr('id', id)
        .attr('gradientUnits', 'userSpaceOnUse')
        .attr('x1', q.from.x).attr('y1', q.from.y)
        .attr('x2', q.to.x).attr('y2', q.to.y);
      grad.append('stop').attr('offset', 0)
        .attr('stop-color', hourColor(q.from.h)).attr('stop-opacity', q.from.a * fade);
      grad.append('stop').attr('offset', 1)
        .attr('stop-color', hourColor(q.to.h)).attr('stop-opacity', q.to.a * fade);
      plumeG.append('path')
        .attr('d', d3.line()(q.corners) + 'Z')
        .attr('fill', `url(#${id})`);
    });
  });
});

frame(mapPanel);

svg.append('g').attr('transform', `translate(${mapPanel.left},0)`)
  .call(d3.axisLeft(yMap).tickValues(latTicks).tickSize(0).tickPadding(21))
  .call(styleAxis, '#000');
svg.append('g').attr('transform', `translate(0,${mapPanel.bottom})`)
  .call(d3.axisBottom(xMap).tickValues(lonTicks).tickSize(0).tickPadding(25))
  .call(styleAxis, '#000');

label('Column-integrated residence time', 929, 461);
label('2020-08-22 06:00 UTC', 1576, 1502, { anchor: 'end', size: 41.8 });
label('FLEXPART-WRF at MIM (LMU Munich)', 263, 510, { anchor: 'start', size: 17.2, color: '#fff', opacity: .7 });
label('christoph.knote@lmu.de', 263, 528, { anchor: 'start', size: 17.2, color: '#fff', opacity: .7 });
label('2020-08-24', 263, 545, { anchor: 'start', size: 17.2, color: '#fff', opacity: .7 });

/*
 * Latitudinal curtain
 *
 */
const sideG = svg.append('g').attr('clip-path', 'url(#clip-side)');

sideG.selectAll('line.grid').data(kftTicks).enter().append('line')
  .attr('class', 'grid')
  .attr('x1', d => xSideKft(d)).attr('x2', d => xSideKft(d))
  .attr('y1', sidePanel.top).attr('y2', sidePanel.bottom)
  .attr('stroke', '#666').attr('stroke-width', .9).attr('stroke-dasharray', '2.5,1.5');

sideG.append('path')
  .datum(latTerrain)
  .attr('fill', '#000')
  .attr('d', d3.area().y(d => yMap(d[0])).x0(xSide(0)).x1(d => xSide(d[1])));

sideG.append('g').attr('mask', 'url(#curtain-mask)')
  .selectAll('rect').data(latCurtain).enter().append('rect')
  .attr('x', d => xSide(d[2]))
  .attr('width', d => xSide(d[3]) - xSide(d[2]))
  .attr('y', d => yMap(d[1]))
  .attr('height', d => yMap(d[0]) - yMap(d[1]))
  .attr('fill', d => hourColor(d[4]))
  .attr('fill-opacity', d => d[5]);

frame(sidePanel);

svg.append('g').attr('transform', `translate(${sidePanel.left},0)`)
  .call(d3.axisLeft(yMap).tickValues(sideLatTicks).tickSize(14).tickPadding(14))
  .call(styleAxis, '#000');
svg.append('g').attr('transform', `translate(0,${sidePanel.top})`)
  .call(d3.axisTop(xSideKft).tickValues(kftTicks).tickFormat(plainNumber).tickSize(14).tickPadding(22))
  .call(styleAxis, '#808080');

const sideBottom = svg.append('g').attr('transform', `translate(0,${sidePanel.bottom})`)
  .call(d3.axisBottom(xSide).tickValues(altTicks).tickFormat(plainNumber).tickSize(14))
  .call(styleAxis, '#000');
// labels turned 45 degrees, hanging from the same top line as in the original
sideBottom.selectAll('text').each(function(d) {
  const chars = String(d).length;
  const half = (chars * .636 + .73) * .707 * fontSize / 2;
  const cy = 33 + half;
  d3.select(this)
    .attr('y', cy).attr('dy', '.35em')
    .attr('text-anchor', 'middle')
    .attr('transform', `rotate(45 0 ${cy})`);
});

label('altitude (m ASL)', 2070, 1695);
label('Latitudinal curtain residence time', 2328, 1012, { rotate: -90 });
label('Nicosia', 2070, 252, { size: 50, weight: 'bold' });

/*
 * Colorbar
 *
 */
const hourBins = d3.range(72);
svg.append('g').selectAll('rect').data(hourBins).enter().append('rect')
  .attr('x', d => xHour(d))
  .attr('width', d => xHour(d + 1) - xHour(d) + .6)
  .attr('y', colorPanel.top)
  .attr('height', colorPanel.bottom - colorPanel.top)
  .attr('fill', d => hourColor(d + .5));

frame(colorPanel);

svg.append('g').attr('transform', `translate(0,${colorPanel.bottom})`)
  .call(d3.axisBottom(xHour).tickValues(hourTicks).tickSize(13).tickPadding(18))
  .call(styleAxis, '#000');

label('time since arrival at location [h]', 928, 1803);
</script>
</body>
</html>
